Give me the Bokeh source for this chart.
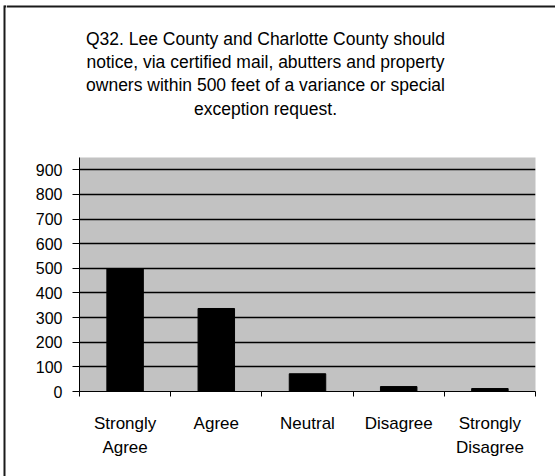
from bokeh.plotting import figure
from bokeh.models import FixedTicker, Range1d
from bokeh.layouts import column, row
from bokeh.core.properties import value
from bokeh.embed import file_html
from bokeh.resources import INLINE

categories = ["Strongly Agree", "Agree", "Neutral", "Disagree", "Strongly Disagree"]
tick_labels = ["Strongly\nAgree", "Agree", "Neutral", "Disagree", "Strongly\nDisagree"]
counts = [497, 337, 72, 20, 12]
y_ticks = [0, 100, 200, 300, 400, 500, 600, 700, 800, 900]
title_lines = [
    "Q32. Lee County and Charlotte County should",
    "notice, via certified mail, abutters and property",
    "owners within 500 feet of a variance or special",
    "exception request.",
]

TOTAL_W, TOTAL_H = 555, 476
SW = 6                      # left strip (frame border)
W = TOTAL_W - SW
TH = 149                    # title strip height
CH = TOTAL_H - TH           # chart height
FONT = "Liberation Sans"
BORDER = "#1a1a1a"


def blank(width, height):
    f = figure(width=width, height=height, output_backend="svg", toolbar_location=None,
               x_range=Range1d(0, width), y_range=Range1d(height, 0),
               x_axis_location=None, y_axis_location=None,
               min_border=0, min_border_left=0, min_border_right=0,
               min_border_top=0, min_border_bottom=0)
    f.frame_align = False
    f.grid.visible = False
    f.outline_line_color = None
    f.background_fill_color = "white"
    f.border_fill_color = "white"
    return f


# ---- left border strip ----
s = blank(SW, TOTAL_H)
s.segment(x0=[4, 4], y0=[5, 6], x1=[4, SW], y1=[TOTAL_H, 6], line_color=BORDER, line_width=2)

# ---- title strip ----
t = blank(W, TH)
t.segment(x0=[0], y0=[6], x1=[W], y1=[6], line_color=BORDER, line_width=2)
t.text(x=[265 - SW] * len(title_lines), y=[38 + 23.4 * k for k in range(len(title_lines))],
       text=title_lines, text_align="center", text_baseline="middle",
       text_font=value(FONT), text_font_size="17.5px", text_color="black")

# ---- chart ----
p = figure(width=W, height=CH, output_backend="svg", toolbar_location=None,
           x_range=Range1d(0, len(categories)), y_range=Range1d(0, 950),
           min_border_left=79 - SW, min_border_right=TOTAL_W - 535, min_border_top=8,
           min_border_bottom=TOTAL_H - 391)
p.frame_align = False
p.background_fill_color = "#c2c2c2"
p.border_fill_color = "white"
p.outline_line_color = None

xs = [i + 0.5 for i in range(len(categories))]
p.vbar(x=xs, top=counts, width=0.4, fill_color="black", line_color="black")

p.ygrid.ticker = FixedTicker(ticks=y_ticks)
p.ygrid.grid_line_color = "black"
p.ygrid.grid_line_width = 1.3
p.xgrid.grid_line_color = None

p.yaxis.ticker = FixedTicker(ticks=y_ticks)
p.yaxis.minor_tick_line_color = None
p.yaxis.major_tick_in = 0
p.yaxis.major_tick_out = 7
p.yaxis.axis_line_color = "black"
p.yaxis.major_label_text_font = FONT
p.yaxis.major_label_text_font_size = "16px"
p.yaxis.major_label_text_color = "black"
p.yaxis.major_label_standoff = 10

x_bounds = list(range(len(categories) + 1))
p.xaxis.ticker = FixedTicker(ticks=xs, minor_ticks=x_bounds)
p.xaxis.major_label_overrides = {x: lab for x, lab in zip(xs, tick_labels)}
p.xaxis.major_tick_in = 0
p.xaxis.major_tick_out = 0
p.xaxis.minor_tick_in = 0
p.xaxis.minor_tick_out = 5
p.xaxis.minor_tick_line_color = "black"
p.xaxis.axis_line_color = "black"
p.xaxis.major_label_text_font = FONT
p.xaxis.major_label_text_font_size = "17px"
p.xaxis.major_label_text_color = "black"
p.xaxis.major_label_text_line_height = 1.3
p.xaxis.major_label_standoff = 17

layout = row(s, column(t, p, spacing=0), spacing=0)
open("out.html", "w").write(file_html(layout, INLINE))
